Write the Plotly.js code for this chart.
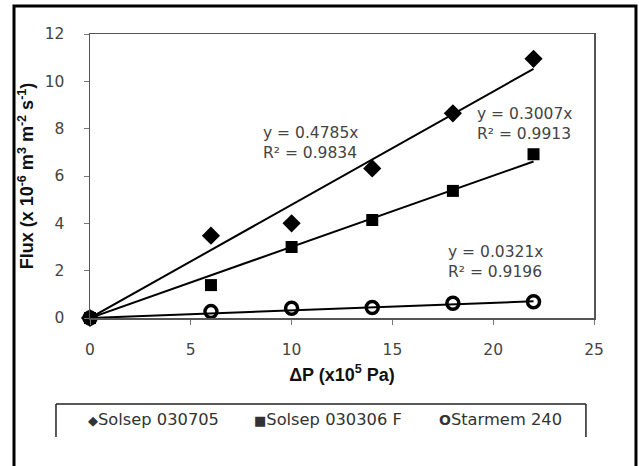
<!DOCTYPE html>
<html>
<head>
<meta charset="utf-8">
<script src="https://cdn.plot.ly/plotly-3.0.1.min.js"></script>
<style>html,body{margin:0;padding:0;background:#fff;}#chart{width:639px;height:466px;}</style>
</head>
<body>
<div id="chart"></div>
<script>
// ---- data ----
const pressure = [0, 6, 10, 14, 18, 22];
const solsep030705 = [0, 3.48, 4.0, 6.32, 8.65, 10.95];
const solsep030306F = [0, 1.39, 3.0, 4.14, 5.37, 6.92];
const starmem240 = [0, 0.27, 0.41, 0.44, 0.62, 0.69];
const seriesNames = ["Solsep 030705", "Solsep 030306 F", "Starmem 240"];
const slopes = [0.4785, 0.3007, 0.0321];
const r2 = [0.9834, 0.9913, 0.9196];
const xTicks = [0, 5, 10, 15, 20, 25];
const yTicks = [0, 2, 4, 6, 8, 10, 12];

const FONT = "DejaVu Sans, Verdana, sans-serif";
const TFONT = "Liberation Sans, Arial, sans-serif";
const series = [solsep030705, solsep030306F, starmem240];
const markers = [
  {symbol: "diamond", size: 14, color: "#000"},
  {symbol: "square", size: 12, color: "#000"},
  {symbol: "circle-open", size: 12, color: "#000", line: {width: 3.5, color: "#000"}}
];

const traces = [];
// trend lines (y = slope * x over the measured pressure range)
slopes.forEach(function (s) {
  const xs = [pressure[0], pressure[pressure.length - 1]];
  traces.push({
    x: xs, y: xs.map(function (v) { return s * v; }),
    mode: "lines", line: {color: "#000", width: 2},
    showlegend: false, hoverinfo: "skip", cliponaxis: false
  });
});
series.forEach(function (ys, i) {
  traces.push({
    x: pressure, y: ys, name: seriesNames[i],
    mode: "markers", marker: markers[i],
    showlegend: false, cliponaxis: false
  });
});

// equation labels (left edge / vertical centre, in data units)
const eqPos = [[8.5, 7.39], [19.12, 8.2], [17.66, 2.38]];
const annotations = slopes.map(function (s, i) {
  return {
    x: eqPos[i][0], y: eqPos[i][1], xref: "x", yref: "y",
    xanchor: "left", yanchor: "middle", align: "left", showarrow: false,
    text: "y = " + s.toFixed(4) + "x<br>R² = " + r2[i].toFixed(4),
    font: {family: FONT, size: 15.5, color: "#444"}
  };
});
// legend entries drawn as text
const legendSym = ['<span style="font-size:13px">◆</span>',
                   '<span style="font-size:13px">■</span>',
                   '<span style="font-size:14px"><b>O</b></span>'];
const legendX = [-0.008, 0.3214, 0.6885];
seriesNames.forEach(function (n, i) {
  annotations.push({
    x: legendX[i], y: -0.359, xref: "paper", yref: "paper",
    xanchor: "left", yanchor: "middle", showarrow: false,
    text: legendSym[i] + n,
    font: {family: FONT, size: 16.3, color: "#333"}
  });
});

const shapes = [
  // outer frame (bottom edge lies outside the picture)
  {type: "rect", xref: "paper", yref: "paper", x0: -0.1508, x1: 1.0833, y0: -0.55, y1: 1.0986,
   line: {color: "#000", width: 3}, layer: "below"},
  // legend box (clipped at the bottom)
  {type: "line", xref: "paper", yref: "paper", x0: -0.0675, x1: -0.0675, y0: -0.3028, y1: -0.419, line: {color: "#222", width: 1.5}},
  {type: "line", xref: "paper", yref: "paper", x0: -0.0675, x1: 0.984, y0: -0.3028, y1: -0.3028, line: {color: "#222", width: 1.5}},
  {type: "line", xref: "paper", yref: "paper", x0: 0.984, x1: 0.984, y0: -0.3028, y1: -0.419, line: {color: "#222", width: 1.5}}
];

const axisCommon = {
  showgrid: false, zeroline: false, showline: true, mirror: true,
  linecolor: "#555", linewidth: 1.5, ticks: "outside", ticklen: 5, tickcolor: "#777", tickwidth: 1,
  tickfont: {family: FONT, size: 15.5, color: "#444"}, automargin: false
};

const layout = {
  width: 639, height: 466,
  margin: {l: 90, r: 45, t: 34, b: 148},
  paper_bgcolor: "#fff", plot_bgcolor: "#fff",
  showlegend: false,
  xaxis: Object.assign({}, axisCommon, {
    range: [0, 25], tickvals: xTicks, ticktext: xTicks.map(String),
    ticklabelstandoff: 12,
    title: {text: "<b>ΔP (x10<sup>5</sup> Pa)</b>", font: {family: TFONT, size: 18, color: "#111"}, standoff: 10}
  }),
  yaxis: Object.assign({}, axisCommon, {
    range: [0, 12], tickvals: yTicks, ticktext: yTicks.map(String),
    ticklabelstandoff: 16,
    title: {text: "<b>Flux (x 10<sup>-6</sup> m<sup>3</sup> m<sup>-2</sup> s<sup>-1</sup>)</b>", font: {family: TFONT, size: 18, color: "#111"}, standoff: 6}
  }),
  annotations: annotations,
  shapes: shapes
};

Plotly.newPlot("chart", traces, layout, {displayModeBar: false, staticPlot: true});
</script>
</body>
</html>
